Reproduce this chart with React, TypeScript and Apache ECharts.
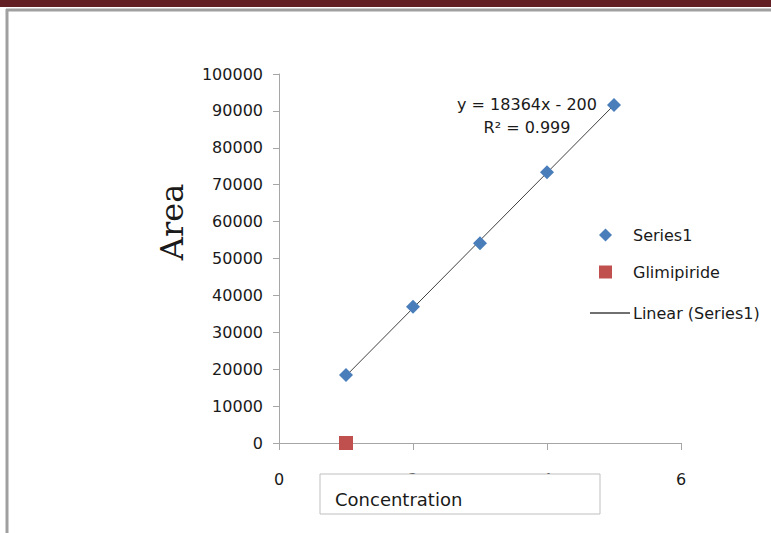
import React, { useEffect, useRef } from "react";
import * as echarts from "echarts";

const concentrations = [1, 2, 3, 4, 5];
const series1Areas = [18400, 36900, 54100, 73400, 91600];
const glimipiride = [[1, 0]];
const trendX = [1, 5];
const trendY = [18200, 91600];
const yTicks = { min: 0, max: 100000, interval: 10000 };
const xTicks = { min: 0, max: 6, interval: 2 };
const equationText = "y = 18364x - 200";
const r2Text = "R² = 0.999";

export default function App() {
  const ref = useRef<HTMLDivElement>(null);
  useEffect(() => {
    if (!ref.current) return;
    const chart = echarts.init(ref.current, undefined, { renderer: "svg" });
    const font = "DejaVu Sans";
    chart.setOption({
      animation: false,
      backgroundColor: "#ffffff",
      grid: { left: 279, top: 74, width: 402, height: 369 },
      xAxis: {
        type: "value",
        min: xTicks.min,
        max: xTicks.max,
        interval: xTicks.interval,
        splitLine: { show: false },
        axisLine: { lineStyle: { color: "#a6a6a6", width: 1 } },
        axisTick: { show: true, length: 7, lineStyle: { color: "#a6a6a6" } },
        axisLabel: { margin: 28, fontFamily: font, fontSize: 16, color: "#1a1a1a" },
      },
      yAxis: {
        type: "value",
        min: yTicks.min,
        max: yTicks.max,
        interval: yTicks.interval,
        splitLine: { show: false },
        axisLine: { show: true, lineStyle: { color: "#a6a6a6", width: 1 } },
        axisTick: { show: true, length: 6, lineStyle: { color: "#a6a6a6" } },
        axisLabel: {
          margin: 16,
          fontFamily: font,
          fontSize: 16,
          color: "#1a1a1a",
          formatter: (v: number) => String(v),
        },
      },
      legend: [
        {
          orient: "vertical",
          left: 594,
          top: 222,
          itemWidth: 13,
          itemHeight: 13,
          itemGap: 21,
          textStyle: { fontFamily: font, fontSize: 16, color: "#1a1a1a", padding: [0, 0, 0, 16] },
          data: [
            { name: "Series1", icon: "diamond", itemStyle: { color: "#4a7ebb", opacity: 1 } },
            { name: "Glimipiride", icon: "rect", itemStyle: { color: "#c0504d", opacity: 1 } },
          ],
        },
        {
          orient: "vertical",
          left: 585,
          top: 300,
          itemWidth: 40,
          itemHeight: 1.5,
          itemGap: 0,
          textStyle: { fontFamily: font, fontSize: 16, color: "#1a1a1a", padding: [0, 0, 0, -2] },
          data: [{ name: "Linear (Series1)", icon: "rect", itemStyle: { color: "#404040" } }],
        },
      ],
      series: [
        {
          name: "Linear (Series1)",
          type: "line",
          data: trendX.map((x, i) => [x, trendY[i]]),
          symbol: "none",
          lineStyle: { color: "#404040", width: 1 },
          itemStyle: { color: "#404040" },
          z: 1,
        },
        {
          name: "Series1",
          type: "scatter",
          data: concentrations.map((x, i) => [x, series1Areas[i]]),
          symbol: "diamond",
          symbolSize: 14,
          itemStyle: { color: "#4a7ebb", opacity: 1 },
          z: 3,
        },
        {
          name: "Glimipiride",
          type: "scatter",
          data: glimipiride,
          symbol: "rect",
          symbolSize: 14,
          itemStyle: { color: "#c0504d", opacity: 1 },
          clip: false,
          z: 3,
        },
      ],
      graphic: [
        { type: "rect", shape: { x: 0, y: 0, width: 771, height: 7 }, style: { fill: "#632024" }, z: 10 },
        { type: "line", shape: { x1: 6, y1: 10, x2: 771, y2: 10 }, style: { stroke: "#a0a0a0", lineWidth: 3 }, z: 10 },
        { type: "line", shape: { x1: 7, y1: 9, x2: 7, y2: 533 }, style: { stroke: "#a0a0a0", lineWidth: 3 }, z: 10 },
        {
          type: "text",
          x: 172,
          y: 222,
          rotation: Math.PI / 2,
          style: {
            text: "Area",
            fontFamily: "DejaVu Serif",
            fontSize: 32,
            fill: "#1a1a1a",
            textAlign: "center",
            textVerticalAlign: "middle",
          },
          z: 10,
        },
        {
          type: "rect",
          shape: { x: 320, y: 474, width: 280, height: 40 },
          style: { fill: "#ffffff", stroke: "#bfbfbf", lineWidth: 1 },
          z: 10,
        },
        {
          type: "text",
          x: 335,
          y: 499,
          style: {
            text: "Concentration",
            fontFamily: font,
            fontSize: 18,
            fill: "#1a1a1a",
            textAlign: "left",
            textVerticalAlign: "middle",
          },
          z: 11,
        },
        {
          type: "text",
          x: 527,
          y: 104,
          style: { text: equationText, fontFamily: font, fontSize: 16, fill: "#1a1a1a", textAlign: "center", textVerticalAlign: "middle" },
          z: 10,
        },
        {
          type: "text",
          x: 527,
          y: 127,
          style: { text: r2Text, fontFamily: font, fontSize: 16, fill: "#1a1a1a", textAlign: "center", textVerticalAlign: "middle" },
          z: 10,
        },
      ],
    });
    return () => chart.dispose();
  }, []);
  return <div ref={ref} style={{ position: "fixed", left: 0, top: 0, width: 771, height: 533 }} />;
}
